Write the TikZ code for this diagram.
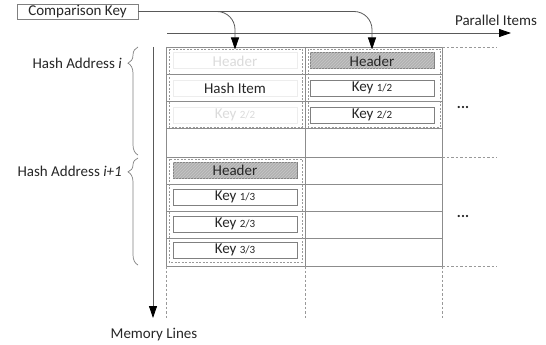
\documentclass[tikz,border=0pt]{standalone}
\usepackage{fontspec}
\setmainfont{Carlito}
\usetikzlibrary{arrows.meta,patterns,decorations.pathreplacing}
\begin{document}
\begin{tikzpicture}[x=1pt,y=-1pt,
  gridline/.style={draw=black!45, line width=0.8pt},
  gdash/.style={draw=black!40, line width=0.7pt, dash pattern=on 2.5pt off 2pt},
  blk/.style={draw=black!40, line width=0.7pt, dash pattern=on 2pt off 1.5pt},
  keybox/.style={draw=black!50, line width=1pt, fill=white, minimum width=124pt, minimum height=16pt, inner sep=0pt, font=\fontsize{15}{16}\selectfont, text=black!85},
  hdrbox/.style={keybox, fill=black!30, postaction={pattern=north east lines, pattern color=black!22}},
  ghost/.style={keybox, draw=black!7, text=black!14},
  lbl/.style={font=\fontsize{15}{16}\selectfont, text=black!85, inner sep=0pt},
  conn/.style={draw=black!65, line width=0.8pt, rounded corners=18pt, shorten >=3pt, -{Triangle[length=12pt,width=8pt,color=black]}},
  axisline/.style={draw=black!65, line width=0.8pt, -{Triangle[length=12pt,width=8pt,color=black]}},
  bracestyle/.style={draw=black!50, line width=0.7pt, decorate},
]
\newcommand{\sm}[1]{{\fontsize{11}{12}\selectfont #1}}
\useasboundingbox (0,0) rectangle (546,345);

% grid
\foreach \y in {47,74,101,128,157,184,211,238,266}
  \draw[gridline] (166,\y) -- (442,\y);
\foreach \x in {166,305,442} {
  \draw[gridline] (\x,47) -- (\x,266);
  \draw[gdash] (\x,266) -- (\x,318);
}
\foreach \y in {47,157,266}
  \draw[gdash] (442,\y) -- (497,\y);

% dashed blocks
\draw[blk] (169,49) rectangle (302,127);
\draw[blk] (308,49) rectangle (440,127);
\draw[blk] (169,159) rectangle (302,262);

% column 1, upper block
\node[ghost] (h1) at (235,61) {Header};
\node[ghost, text=black!85] (hi) at (235,88) {Hash Item};
\node[ghost] (g22) at (235,115) {Key \sm{2/2}};

% column 2, upper block
\node[hdrbox] (h2) at (372,61) {Header};
\node[keybox] (k12) at (372,88) {Key \sm{1/2}};
\node[keybox] (k22) at (372,115) {Key \sm{2/2}};

% column 1, lower block
\node[hdrbox] (h3) at (235,170) {Header};
\node[keybox] (k13) at (235,197) {Key \sm{1/3}};
\node[keybox] (k23) at (235,224) {Key \sm{2/3}};
\node[keybox] (k33) at (235,250) {Key \sm{3/3}};

% comparison key
\node[draw=black!50, line width=0.8pt, fill=white, minimum width=121pt, minimum height=15pt, inner sep=0pt, font=\fontsize{15}{16}\selectfont, text=black!85] (ck) at (77.5,11.5) {Comparison Key};
\draw[conn] (ck.east) -| (h1.north);
\draw[conn] (ck.east) -| (h2.north);

% axes
\coordinate (pa0) at (167,33);
\coordinate (pa1) at (511,33);
\draw[axisline] (pa0) -- (pa1);
\node[lbl] (pl) at (496,20) {Parallel Items};
\coordinate (ma0) at (153,47);
\coordinate (ma1) at (153,318);
\draw[axisline] (ma0) -- (ma1);
\node[lbl] (ml) at (154,335) {Memory Lines};

% dots
\node[lbl, font=\fontsize{15}{16}\selectfont\bfseries] (d1) at (463,107) {...};
\node[lbl, font=\fontsize{15}{16}\selectfont\bfseries] (d2) at (463,216) {...};

% braces
\draw[bracestyle, decoration={brace, amplitude=10pt, aspect=0.85}] (138,155) -- (138,47);
\draw[bracestyle, decoration={brace, amplitude=10pt, aspect=0.87}] (138,265) -- (138,158);
\node[lbl, anchor=east] (ha1) at (122,63) {Hash Address \textit{i}};
\node[lbl, anchor=east] (ha2) at (122,171) {Hash Address \textit{i+1}};
\end{tikzpicture}
\end{document}
